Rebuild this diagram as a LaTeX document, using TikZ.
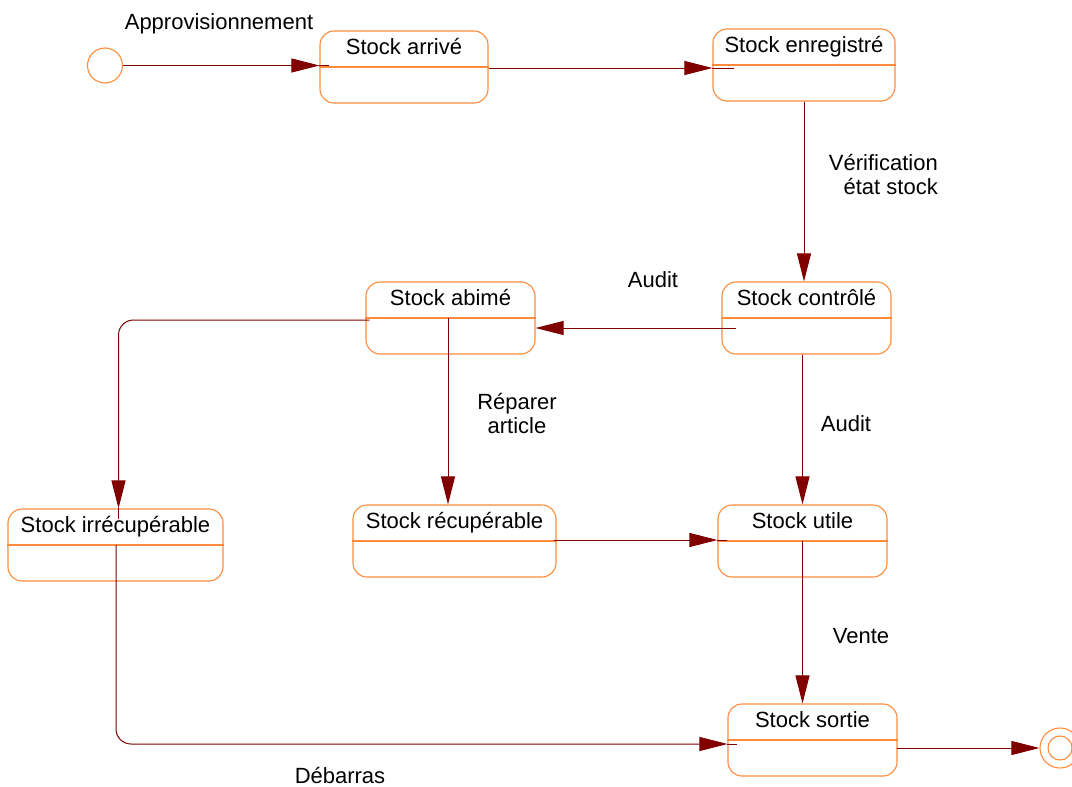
\documentclass[tikz,border=0pt]{standalone}
\usepackage{fontspec}
\setmainfont{Liberation Sans}
\usetikzlibrary{arrows.meta,calc}
\definecolor{stateline}{RGB}{255,140,60}
\definecolor{flowline}{RGB}{128,0,0}
\begin{document}
\begin{tikzpicture}[x=1pt,y=-1pt,
  state/.style={draw=stateline, line width=1.1pt, rounded corners=14pt,
    minimum height=72pt, inner sep=0pt},
  pseudo/.style={circle, draw=stateline, line width=1.1pt, inner sep=0pt},
  txt/.style={font=\fontsize{22}{24}\selectfont, inner sep=0pt, anchor=base},
  flow/.style={draw=flowline, line width=1pt,
    -{Triangle[length=28pt,width=14pt]}},
  tail/.style={draw=flowline, line width=1pt}]

\useasboundingbox (0,0) rectangle (1072,787);

% states: box, name above the divider, divider through the middle
\foreach \n/\x/\y/\w/\t in {
    arr/404/67/168/{Stock arrivé},
    enr/804/65/182/{Stock enregistré},
    ctl/806.5/318/169/{Stock contrôlé},
    abi/450.5/318/169/{Stock abimé},
    irr/115.5/545/215/{Stock irrécupérable},
    rec/454.5/541/203/{Stock récupérable},
    uti/802.5/541/169/{Stock utile},
    sor/812.5/740/169/{Stock sortie}} {
  \node[state, minimum width=\w pt] (\n) at (\x,\y) {};
  \node[txt] (\n-name) at ($(\n.center)+(0,-12.5)$) {\t};
  \draw[stateline, line width=1.1pt] (\n.west) -- (\n.east);
}

% initial and final pseudo-states
\node[pseudo, minimum size=35pt] (start) at (105,65.5) {};
\node[pseudo, minimum size=40pt] (fin) at (1060,748) {};
\node[pseudo, minimum size=24pt] (fin-in) at (fin.center) {};

% transitions
\draw[flow] (start.east) -- (arr.west |- start.east);
\draw[tail] (arr.west |- start.east) -- ++(10,0);

\coordinate (arr-out) at ($(arr.east)+(0,1)$);
\draw[flow] (arr-out) -- (enr.west |- arr-out);
\draw[tail] (enr.west |- arr-out) -- ++(22,0);

\draw[flow] (enr.south) -- (enr.south |- ctl.north);

\coordinate (ctl-out) at ($(ctl.west)+(15,10)$);
\draw[flow] (ctl-out) -- (abi.east |- ctl-out);

\draw[flow] (uti.north |- ctl.south) -- (uti.north);

\coordinate (abi-down) at ($(abi.center)+(-2.5,0)$);
\draw[flow] (abi-down) -- (abi-down |- rec.north);

\coordinate (abi-left) at ($(abi.west)+(4,2)$);
\draw[flow, rounded corners=15pt] (abi-left) -| ($(irr.north)+(3,0)$);
\draw[tail] ($(irr.north)+(3,0)$) -- ++(0,11);

\coordinate (sor-in) at ($(sor.west)+(0,4)$);
\draw[flow, rounded corners=15pt] ($(irr.center)+(0.5,0)$) |- (sor-in);
\draw[tail] (sor-in) -- ++(10,0);

\coordinate (rec-out) at ($(rec.east)+(-3,-1)$);
\draw[flow] (rec-out) -- (uti.west |- rec-out);
\draw[tail] (uti.west |- rec-out) -- ++(10,0);

\draw[flow] (uti.center) -- (uti.center |- sor.north);

\coordinate (sor-out) at ($(sor.east)+(-1,8)$);
\draw[flow] (sor-out) -- (fin.west |- sor-out);

% transition labels
\node[txt] (l-appro) at (219,29) {Approvisionnement};
\node[txt, align=right, anchor=north east] (l-verif) at (938,154)
  {Vérification\\ état stock};
\node[txt] (l-audit1) at (653,287) {Audit};
\node[txt] (l-audit2) at (846,431) {Audit};
\node[txt, align=center, anchor=north] (l-repar) at (517,393) {Réparer\\article};
\node[txt] (l-vente) at (861,643) {Vente};
\node[txt] (l-debar) at (340,783) {Débarras};
\end{tikzpicture}
\end{document}
